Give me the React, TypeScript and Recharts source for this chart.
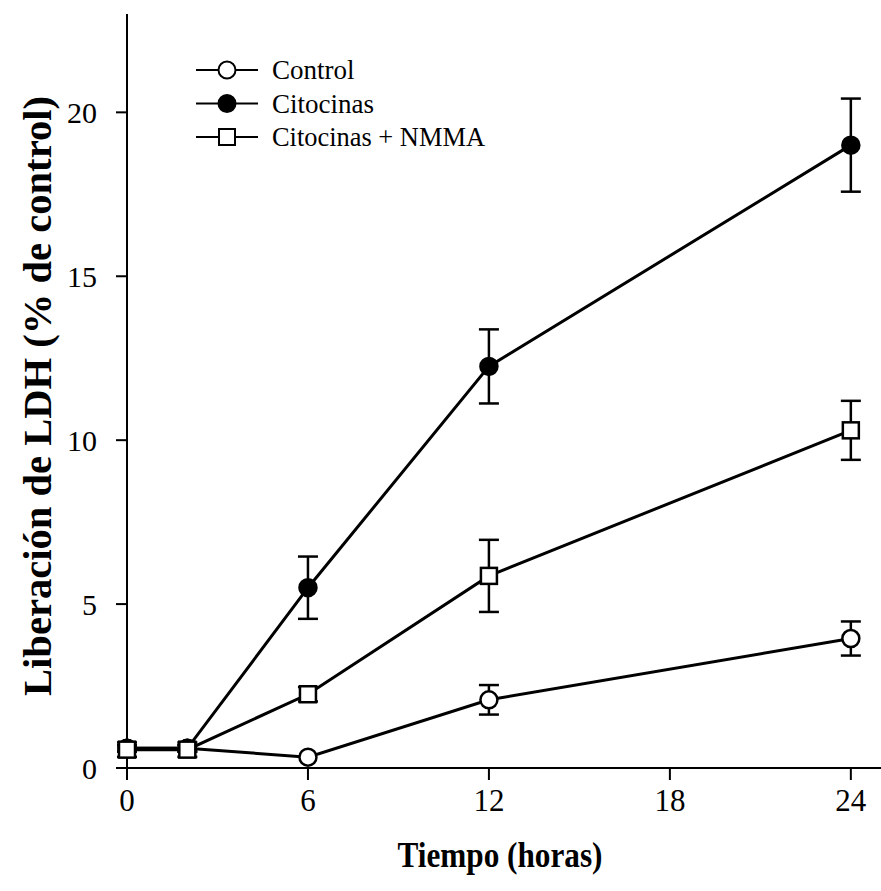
import React from "react";
import { LineChart, Line, XAxis, YAxis, ErrorBar } from "recharts";

// time points (hours)
const hours = [0, 2, 6, 12, 24];

// LDH release, % of control
const control = [0.6, 0.6, 0.33, 2.08, 3.95];
const controlErr = [0.1, 0.1, 0, 0.45, 0.52];
const citocinas = [0.6, 0.6, 5.5, 12.25, 19.0];
const citocinasErr = [0.1, 0.1, 0.95, 1.13, 1.42];
const nmma = [0.56, 0.56, 2.25, 5.86, 10.3];
const nmmaErr = [0.22, 0.22, 0.22, 1.1, 0.9];

const xTicks = [0, 6, 12, 18, 24];
const yTicks = [0, 5, 10, 15, 20];

const legendItems = [
  { name: "Control", shape: "circle", fill: "#fff" },
  { name: "Citocinas", shape: "circle", fill: "#000" },
  { name: "Citocinas + NMMA", shape: "square", fill: "#fff" },
];

const FONT = "'Liberation Serif', 'Times New Roman', serif";

const data = hours.map((h, i) => ({
  h,
  control: control[i],
  controlErr: controlErr[i],
  citocinas: citocinas[i],
  citocinasErr: citocinasErr[i],
  nmma: nmma[i],
  nmmaErr: nmmaErr[i],
}));

const circleDot = (fill: string) => (p: any) => (
  <circle key={p.key} cx={p.cx} cy={p.cy} r={8.5} fill={fill} stroke="#000" strokeWidth={2.5} />
);

const squareDot = (p: any) => (
  <rect key={p.key} x={p.cx - 8} y={p.cy - 8} width={16} height={16} fill="#fff" stroke="#000" strokeWidth={2.5} />
);

function LegendBox() {
  return (
    <svg width={320} height={110} style={{ position: "absolute", left: 196, top: 55, overflow: "visible" }}>
      {legendItems.map((it, i) => {
        const y = 15 + i * 33.5;
        return (
          <g key={it.name}>
            <line x1={0} x2={62} y1={y} y2={y} stroke="#000" strokeWidth={2} />
            {it.shape === "circle" ? (
              <circle cx={31} cy={y} r={8.5} fill={it.fill} stroke="#000" strokeWidth={2} />
            ) : (
              <rect x={23} y={y - 8} width={16} height={16} fill="#fff" stroke="#000" strokeWidth={2} />
            )}
            <text x={76} y={y + 9} fontFamily={FONT} fontSize={27} textLength={it.name.length > 10 ? 213 : undefined} lengthAdjust="spacingAndGlyphs" fill="#000">
              {it.name}
            </text>
          </g>
        );
      })}
    </svg>
  );
}

const XTitle = (props: any) => {
  const { x, y, width } = props.viewBox;
  return (
    <text
      x={x + width / 2 - 4}
      y={y + 99}
      textAnchor="middle"
      fontFamily={FONT}
      fontWeight="bold"
      fontSize={35}
      textLength={205}
      lengthAdjust="spacingAndGlyphs"
      fill="#000"
    >
      Tiempo (horas)
    </text>
  );
};

const YTitle = (props: any) => {
  const { y, height } = props.viewBox;
  const cx = 51;
  const cy = y + height / 2 + 5;
  return (
    <text
      x={cx}
      y={cy}
      transform={`rotate(-90 ${cx} ${cy})`}
      textAnchor="middle"
      fontFamily={FONT}
      fontWeight="bold"
      fontSize={39}
      textLength={600}
      lengthAdjust="spacingAndGlyphs"
      fill="#000"
    >
      Liberación de LDH (% de control)
    </text>
  );
};

export default function App() {
  return (
    <div style={{ position: "absolute", left: 0, top: 0, width: 881, height: 891, background: "#fff" }}>
      <LineChart width={881} height={891} data={data} margin={{ top: 14, right: 0, left: 0, bottom: 0 }}>
        <XAxis
          dataKey="h"
          type="number"
          domain={[0, 25]}
          ticks={xTicks}
          height={123}
          tickSize={12}
          tickMargin={9}
          axisLine={{ stroke: "#000", strokeWidth: 2 }}
          tickLine={{ stroke: "#000", strokeWidth: 2 }}
          tick={{ fill: "#000", fontSize: 31, fontFamily: FONT }}
          label={<XTitle />}
        />
        <YAxis
          type="number"
          domain={[0, 23]}
          ticks={yTicks}
          width={127}
          tickSize={11}
          tickMargin={19}
          axisLine={{ stroke: "#000", strokeWidth: 2 }}
          tickLine={{ stroke: "#000", strokeWidth: 2 }}
          tick={{ fill: "#000", fontSize: 30, fontFamily: FONT }}
          label={<YTitle />}
        />
        <Line dataKey="control" stroke="#000" strokeWidth={3} dot={circleDot("#fff")} isAnimationActive={false}>
          <ErrorBar dataKey="controlErr" direction="y" width={10} stroke="#000" strokeWidth={2.5} />
        </Line>
        <Line dataKey="citocinas" stroke="#000" strokeWidth={3} dot={circleDot("#000")} isAnimationActive={false}>
          <ErrorBar dataKey="citocinasErr" direction="y" width={10} stroke="#000" strokeWidth={2.5} />
        </Line>
        <Line dataKey="nmma" stroke="#000" strokeWidth={3} dot={squareDot} isAnimationActive={false}>
          <ErrorBar dataKey="nmmaErr" direction="y" width={10} stroke="#000" strokeWidth={2.5} />
        </Line>
      </LineChart>
      <LegendBox />
    </div>
  );
}
